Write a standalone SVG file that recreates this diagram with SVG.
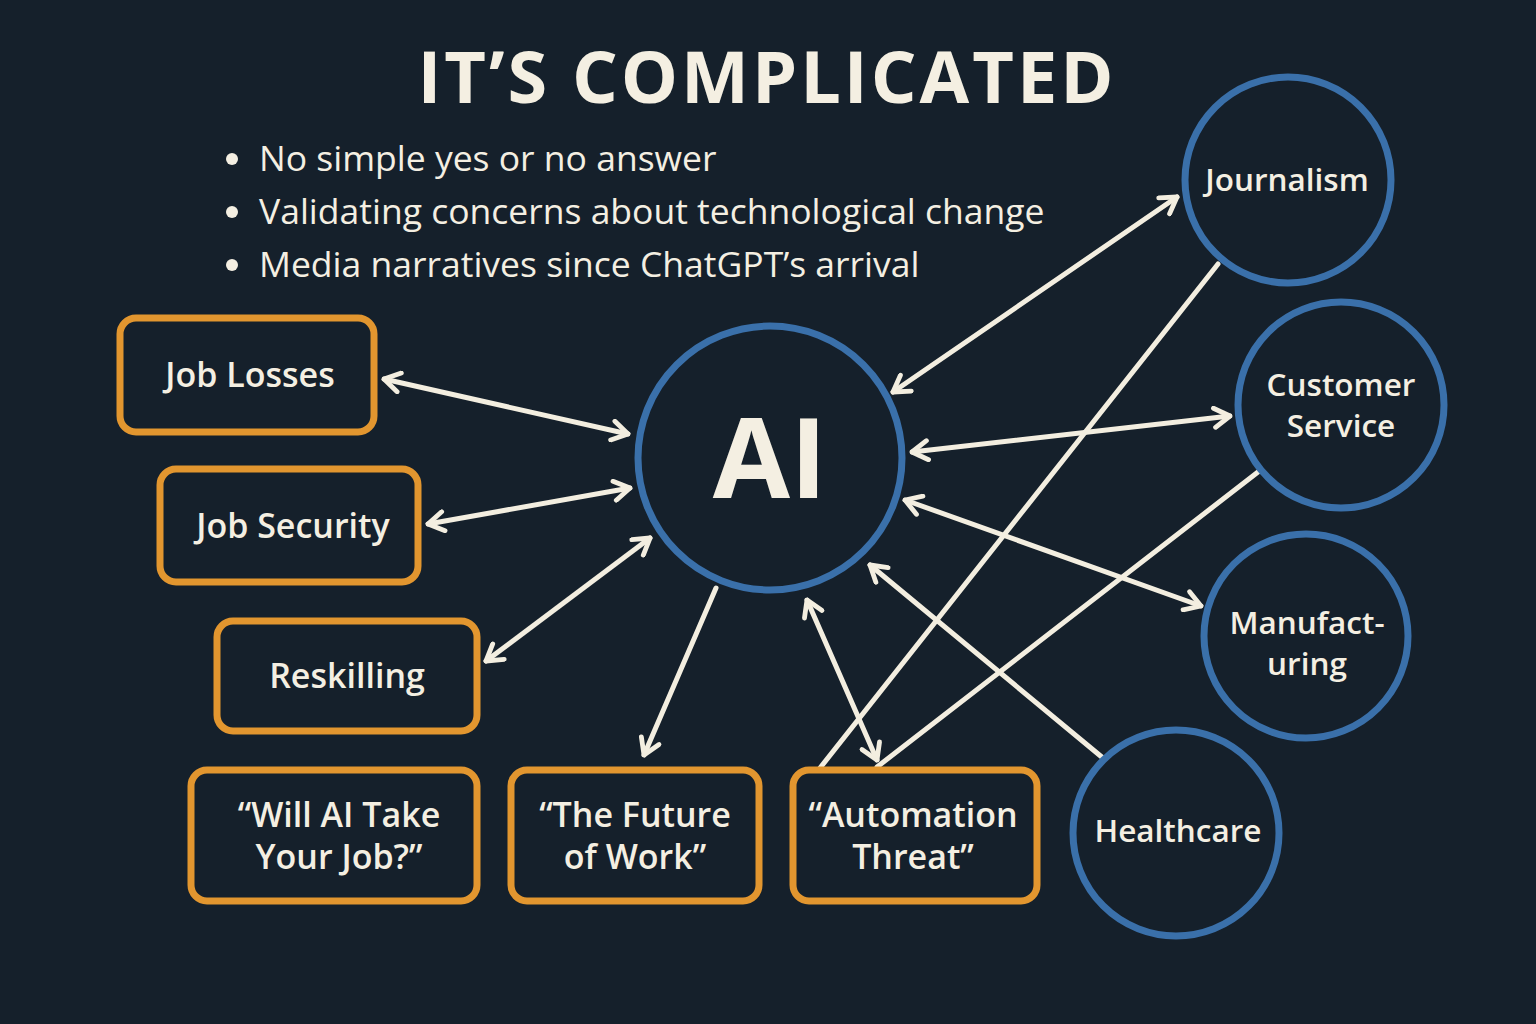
<svg xmlns="http://www.w3.org/2000/svg" width="1536" height="1024" viewBox="0 0 1536 1024">
<defs>
<style>
.bg{fill:#15202b}
.box{fill:#15202b;stroke:#e2962f;stroke-width:7}
.circ{fill:#15202b;stroke:#3a70aa;stroke-width:7}
.lbl{font-family:"Open Sans","Noto Sans","DejaVu Sans",sans-serif;font-weight:600;font-size:34px;fill:#f4efe2;text-anchor:middle}
.clbl{font-family:"Open Sans","Noto Sans","DejaVu Sans",sans-serif;font-weight:600;font-size:31.5px;fill:#f4efe2;text-anchor:middle}
.title{font-family:"Open Sans","Noto Sans","DejaVu Sans",sans-serif;font-weight:700;font-size:72px;fill:#f4efe2;text-anchor:middle;letter-spacing:3px}
.bul{font-family:"Open Sans","Noto Sans","DejaVu Sans",sans-serif;font-weight:500;font-size:35.5px;fill:#f4efe2}
.ai{font-family:"Open Sans","Noto Sans","DejaVu Sans",sans-serif;font-weight:700;font-size:112px;fill:#f4efe2;text-anchor:middle}
.ln{stroke:#f3eee0;stroke-width:5;fill:none;stroke-linecap:round}
</style>
<marker id="ah" viewBox="0 0 20 20" refX="18" refY="10" markerWidth="24" markerHeight="24" markerUnits="userSpaceOnUse" orient="auto-start-reverse">
<path d="M5,2 L18,10 L5,18" fill="none" stroke="#f3eee0" stroke-width="4" stroke-linecap="round" stroke-linejoin="round"/>
</marker>
</defs>
<rect class="bg" x="0" y="0" width="1536" height="1024"/>
<text class="title" x="767" y="103">IT’S COMPLICATED</text>
<g id="bullets">
<circle cx="232" cy="159" r="6" fill="#f4efe2"/>
<circle cx="232" cy="212" r="6" fill="#f4efe2"/>
<circle cx="232" cy="265" r="6" fill="#f4efe2"/>
<text class="bul" x="259" y="171">No simple yes or no answer</text>
<text class="bul" x="259" y="224">Validating concerns about technological change</text>
<text class="bul" x="259" y="277">Media narratives since ChatGPT’s arrival</text>
</g>
<g id="connectors">
<line class="ln" x1="384" y1="379" x2="628" y2="434" marker-start="url(#ah)" marker-end="url(#ah)"/>
<line class="ln" x1="428" y1="524" x2="630" y2="488" marker-start="url(#ah)" marker-end="url(#ah)"/>
<line class="ln" x1="486" y1="661" x2="650" y2="538" marker-start="url(#ah)" marker-end="url(#ah)"/>
<line class="ln" x1="716" y1="588" x2="644" y2="755" marker-end="url(#ah)"/>
<line class="ln" x1="807" y1="600" x2="877" y2="760" marker-start="url(#ah)" marker-end="url(#ah)"/>
<line class="ln" x1="1218" y1="264" x2="820" y2="768"/>
<line class="ln" x1="1258" y1="472" x2="877" y2="767"/>
<line class="ln" x1="1103" y1="758" x2="870" y2="565" marker-end="url(#ah)"/>
<line class="ln" x1="893" y1="392" x2="1177" y2="197" marker-start="url(#ah)" marker-end="url(#ah)"/>
<line class="ln" x1="912" y1="452" x2="1230" y2="416" marker-start="url(#ah)" marker-end="url(#ah)"/>
<line class="ln" x1="905" y1="500" x2="1201" y2="606" marker-start="url(#ah)" marker-end="url(#ah)"/>
</g>
<g id="ai"><circle class="circ" cx="770" cy="458" r="132"/><text class="ai" x="770" y="498">AI</text></g>
<g id="job-losses"><rect class="box" x="120" y="318" width="254" height="114" rx="16"/><text class="lbl" x="250" y="387">Job Losses</text></g>
<g id="job-security"><rect class="box" x="160" y="469" width="258" height="113" rx="16"/><text class="lbl" x="293" y="538">Job Security</text></g>
<g id="reskilling"><rect class="box" x="217" y="621" width="260" height="110" rx="16"/><text class="lbl" x="347" y="688">Reskilling</text></g>
<g id="will-ai"><rect class="box" x="191" y="770" width="286" height="131" rx="16"/><text class="lbl" x="339" y="827">“Will AI Take</text><text class="lbl" x="339" y="869">Your Job?”</text></g>
<g id="future-work"><rect class="box" x="511" y="770" width="248" height="131" rx="16"/><text class="lbl" x="635" y="827">“The Future</text><text class="lbl" x="635" y="869">of Work”</text></g>
<g id="automation"><rect class="box" x="793" y="770" width="244" height="131" rx="16"/><text class="lbl" x="913" y="827">“Automation</text><text class="lbl" x="913" y="869">Threat”</text></g>
<g id="journalism"><circle class="circ" cx="1288" cy="180" r="103"/><text class="clbl" x="1287" y="191">Journalism</text></g>
<g id="customer-service"><circle class="circ" cx="1341" cy="405" r="103"/><text class="clbl" x="1341" y="396">Customer</text><text class="clbl" x="1341" y="437">Service</text></g>
<g id="manufacturing"><circle class="circ" cx="1306" cy="636" r="102"/><text class="clbl" x="1307" y="634">Manufact-</text><text class="clbl" x="1307" y="675">uring</text></g>
<g id="healthcare"><circle class="circ" cx="1176" cy="833" r="103"/><text class="clbl" x="1178" y="842">Healthcare</text></g>
</svg>
